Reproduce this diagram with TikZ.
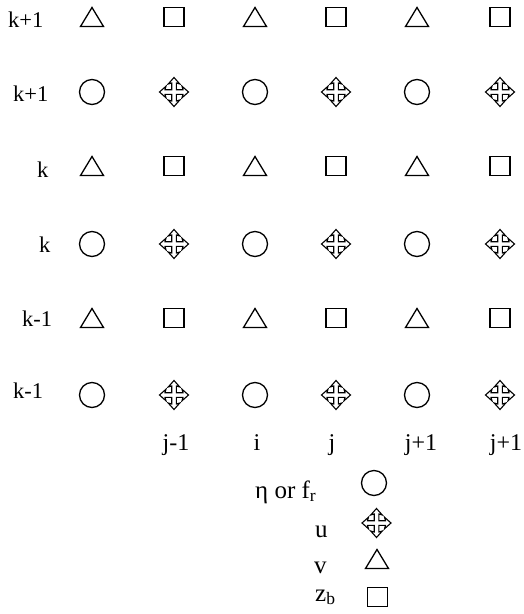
\documentclass[tikz,border=0pt]{standalone}
\usepackage{fontspec}
\setmainfont{Liberation Serif}
\begin{document}
\begin{tikzpicture}[x=1pt,y=-1pt,
  shp/.style={draw=black,line width=1.3pt,line join=miter},
  rowlab/.style={anchor=base west,inner sep=0pt,font=\fontsize{22.5}{24}\selectfont},
  collab/.style={anchor=base,inner sep=0pt,font=\fontsize{24}{26}\selectfont},
  leglab/.style={anchor=base west,inner sep=0pt,font=\fontsize{25}{28}\selectfont},
  tri/.pic={\draw[shp] (-11.5,9.5) -- (11.5,9.5) -- (0,-9.5) -- cycle;},
  sqr/.pic={\draw[shp] (-10,-9.5) rectangle (10,9.5);},
  circ/.pic={\draw[shp] (0,0) circle[radius=12.5pt];},
  crs/.pic={\draw[draw=black,line width=1.1pt,line join=miter]
     (2.3,-2.3) -- (2.3,-9) -- (5.8,-8) -- (0,-14.5) -- (-5.8,-8) -- (-2.3,-9) -- (-2.3,-2.3)
     -- (-9,-2.3) -- (-8,-5.8) -- (-14.5,0) -- (-8,5.8) -- (-9,2.3) -- (-2.3,2.3)
     -- (-2.3,9) -- (-5.8,8) -- (0,14.5) -- (5.8,8) -- (2.3,9) -- (2.3,2.3)
     -- (9,2.3) -- (8,5.8) -- (14.5,0) -- (8,-5.8) -- (9,-2.3) -- cycle;}
]
\useasboundingbox (0,0) rectangle (524,614);
% grid of symbols
\foreach \y in {17,166,318}{
  \foreach \x/\s in {92/tri,174/sqr,255/tri,336/sqr,417/tri,500/sqr}{
    \pic at (\x,\y) {\s};
  }
}
\foreach \y in {92,244,395}{
  \foreach \x/\s in {92/circ,174/crs,255/circ,336/crs,417/circ,500/crs}{
    \pic at (\x,\y) {\s};
  }
}
% row labels
\node[rowlab] (r1) at (8,27) {k+1};
\node[rowlab] (r2) at (13,101) {k+1};
\node[rowlab] (r3) at (37,177) {k};
\node[rowlab] (r4) at (39,252) {k};
\node[rowlab] (r5) at (22,326) {k-1};
\node[rowlab] (r6) at (13,398) {k-1};
% column labels
\node[collab] (c1) at (176,450) {j-1};
\node[collab] (c2) at (257,450) {i};
\node[collab] (c3) at (332,450) {j};
\node[collab] (c4) at (421,450) {j+1};
\node[collab] (c5) at (506,450) {j+1};
% legend
\node[leglab] (l1) at (255,498) {η or f\textsubscript{r}};
\node[leglab] (l2) at (315,537) {u};
\node[leglab] (l3) at (314,573) {v};
\node[leglab] (l4) at (315,601) {z\textsubscript{b}};
\pic at (374,483) {circ};
\pic at (376.5,523) {crs};
\pic at (377,559) {tri};
\pic at (377.5,597) {sqr};
\end{tikzpicture}
\end{document}
